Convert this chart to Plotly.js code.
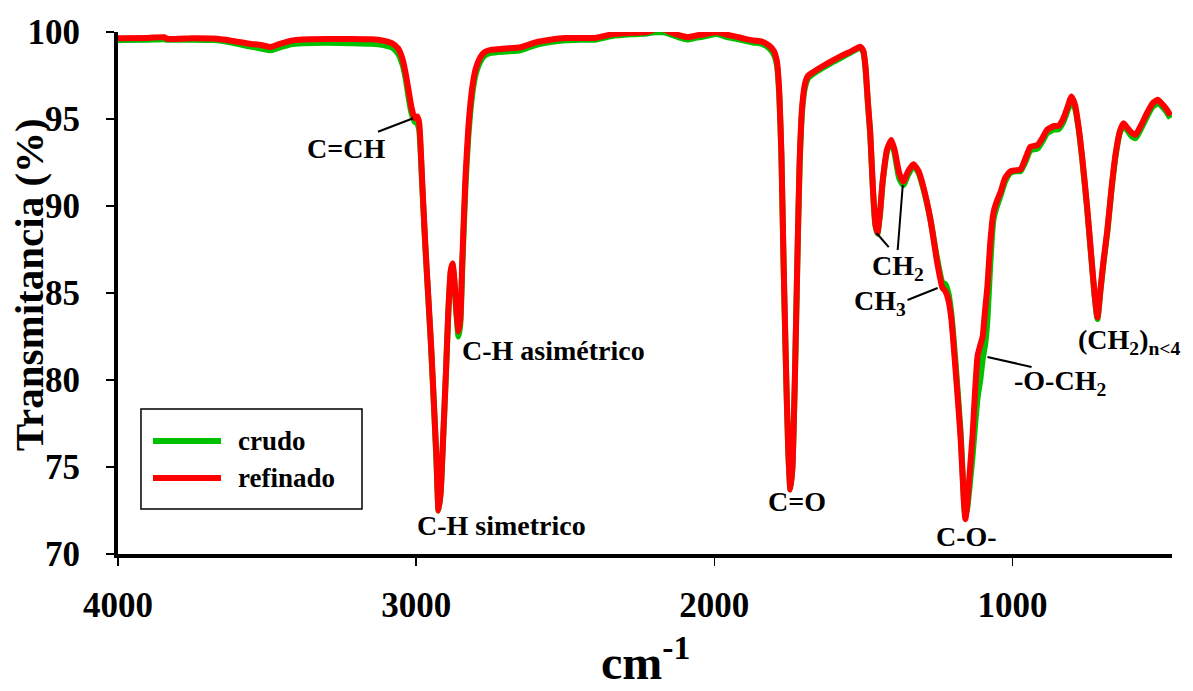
<!DOCTYPE html>
<html>
<head>
<meta charset="utf-8">
<script src="https://cdn.plot.ly/plotly-3.0.1.min.js"></script>
<style>html,body{margin:0;padding:0;background:#fff;}#chart{width:1193px;height:691px;}</style>
</head>
<body>
<div id="chart"></div>
<script>
var wavenumber = [4000,3900,3845,3835,3750,3680,3620,3560,3520,3487,3460,3420,3380,3300,3220,3150,3110,3080,3060,3045,3035,3025,3015,3005,2997,2990,2980,2970,2960,2950,2940,2932,2925,2918,2910,2900,2892,2884,2878,2872,2865,2858,2852,2845,2835,2825,2812,2800,2785,2770,2750,2700,2650,2600,2550,2500,2450,2400,2340,2280,2225,2200,2170,2140,2110,2090,2060,2040,2020,1990,1960,1930,1900,1870,1840,1815,1800,1790,1782,1775,1768,1760,1752,1745,1738,1730,1722,1714,1705,1695,1685,1668,1640,1610,1577,1540,1510,1500,1493,1485,1477,1468,1460,1453,1445,1435,1420,1406,1395,1380,1366,1350,1332,1315,1299,1275,1252,1235,1225,1215,1205,1191,1174,1163,1158,1152,1142,1134,1125,1117,1108,1100,1092,1084,1075,1064,1052,1040,1025,1007,990,973,955,940,916,900,883,860,846,830,815,802,790,778,765,750,738,725,715,705,695,682,668,654,640,628,615,600,587,570,547,530,513,500,485,470];

var refinado = [99.64,99.66,99.70,99.60,99.64,99.62,99.50,99.33,99.25,99.14,99.30,99.50,99.57,99.60,99.60,99.58,99.50,99.35,99.05,98.4,97.6,96.6,95.6,95.05,95.15,94.8,91.5,88.0,85.0,82.0,78.5,75.5,72.5,73.5,76.5,80.5,84.0,86.3,86.7,85.8,84.0,82.8,83.5,87.0,91.5,94.5,96.8,97.9,98.55,98.85,98.97,99.05,99.12,99.4,99.55,99.65,99.66,99.66,99.88,99.95,100.0,100.15,100.15,99.93,99.78,99.7,99.8,99.85,99.92,100.0,99.85,99.75,99.62,99.52,99.45,99.2,98.9,98.3,96.5,93.0,87.0,81.0,76.0,73.7,75.0,80.0,86.5,92.5,95.8,97.1,97.5,97.7,98.0,98.3,98.6,98.9,99.15,98.9,98.0,96.0,94.2,91.0,89.0,88.45,89.5,91.5,93.3,93.8,93.2,91.9,91.4,92.0,92.4,92.0,91.1,89.2,86.7,85.3,85.1,84.6,83.5,80.6,76.7,73.0,72.0,72.8,75.0,76.8,79.5,81.4,82.0,82.5,84.0,85.4,87.8,89.6,90.3,90.8,91.6,92.0,92.05,92.1,92.8,93.4,93.5,93.9,94.4,94.6,94.6,95.0,95.7,96.3,95.8,94.5,92.6,90.0,87.6,85.0,83.6,85.2,86.8,88.6,91.0,93.0,94.3,94.75,94.5,94.2,94.1,94.6,95.4,95.9,96.1,95.9,95.6,95.2];

var crudo = [99.54,99.56,99.58,99.55,99.56,99.54,99.40,99.18,99.05,98.95,99.10,99.30,99.35,99.38,99.36,99.33,99.25,99.10,98.75,98.1,97.3,96.2,95.3,94.85,94.75,94.4,91.3,87.9,84.9,81.9,78.4,75.4,72.5,73.5,76.4,80.4,83.9,86.2,86.6,85.6,83.8,82.5,83.2,86.6,91.0,94.0,96.4,97.6,98.3,98.65,98.8,98.88,98.95,99.25,99.42,99.52,99.55,99.56,99.78,99.87,99.92,99.98,99.98,99.82,99.65,99.57,99.68,99.72,99.8,99.88,99.72,99.62,99.5,99.4,99.32,99.05,98.7,98.1,96.3,92.8,86.9,80.9,75.9,73.7,75.0,79.9,86.3,92.3,95.6,96.9,97.35,97.6,97.9,98.2,98.5,98.85,99.1,98.85,97.9,95.9,94.1,90.9,88.9,88.4,89.4,91.4,93.2,93.7,93.0,91.6,91.2,91.8,92.3,91.9,91.0,89.2,86.9,85.6,85.5,85.0,83.8,81.0,77.0,73.2,72.2,72.6,74.2,75.6,77.5,79.0,80.0,81.2,82.0,83.5,86.5,89.2,90.0,90.6,91.4,91.9,92.0,92.0,92.6,93.2,93.3,93.7,94.2,94.4,94.4,94.8,95.5,96.0,95.6,94.4,92.5,89.9,87.5,84.9,83.5,85.1,86.7,88.5,90.9,92.9,94.2,94.6,94.35,94.0,93.9,94.4,95.2,95.7,95.9,95.75,95.45,95.05];

var xTickVals = [4000,3000,2000,1000];
var yTickVals = [70,75,80,85,90,95,100];
var seriesNames = ['crudo','refinado'];
var seriesColors = ['#00c000','#ff0000'];

// peak labels: text, wavenumber, transmittance, anchor
var labelTexts = ['C=CH','C-H asimétrico','C-H simetrico','C=O','CH<sub>2</sub>','CH<sub>3</sub>','-O-CH<sub>2</sub>','(CH<sub>2</sub>)<sub>n&lt;4</sub>','C-O-'];
var labelX = [3236,2853,2713,1724,1385,1446,842,607,1154];
var labelY = [93.28,81.67,71.61,72.99,86.44,84.43,79.83,82.24,71.03];
var labelAnchor = ['center','left','center','center','center','center','center','center','center'];

// leader lines [x0,y0,x1,y1]
var leaderX0 = [3128,1456,1368,1352,1084];
var leaderY0 = [94.27,88.45,91.2,84.6,81.32];
var leaderX1 = [3010,1415,1385,1251,936];
var leaderY1 = [95.04,87.64,87.47,85.29,80.75];

var FONT = 'Liberation Serif, Times New Roman, serif';

var traces = [
  {x: wavenumber, y: crudo, name: seriesNames[0], type: 'scatter', mode: 'lines',
   line: {color: seriesColors[0], width: 6, shape: 'spline', smoothing: 0.5}},
  {x: wavenumber, y: refinado, name: seriesNames[1], type: 'scatter', mode: 'lines',
   line: {color: seriesColors[1], width: 6, shape: 'spline', smoothing: 0.5}}
];

var annotations = [];
for (var i = 0; i < labelTexts.length; i++) {
  annotations.push({x: labelX[i], y: labelY[i], xref: 'x', yref: 'y', text: labelTexts[i],
    showarrow: false, xanchor: labelAnchor[i], yanchor: 'middle',
    font: {family: FONT, size: 28, color: '#000', weight: 'bold'}});
}
// axis titles
annotations.push({x: -0.0844, y: 0.515, xref: 'paper', yref: 'paper', text: 'Transmitancia (%)',
  textangle: -90, showarrow: false, xanchor: 'center', yanchor: 'middle',
  font: {family: FONT, size: 41, color: '#000', weight: 'bold'}});
annotations.push({x: 0.5, y: -0.262, xref: 'paper', yref: 'paper', text: 'cm<sup>-1</sup>',
  showarrow: false, xanchor: 'center', yanchor: 'bottom',
  font: {family: FONT, size: 48, color: '#000', weight: 'bold'}});
// legend text
annotations.push({x: 0.112, y: 0.2165, xref: 'paper', yref: 'paper', text: seriesNames[0],
  showarrow: false, xanchor: 'left', yanchor: 'middle',
  font: {family: FONT, size: 27, color: '#000', weight: 'bold'}});
annotations.push({x: 0.112, y: 0.1456, xref: 'paper', yref: 'paper', text: seriesNames[1],
  showarrow: false, xanchor: 'left', yanchor: 'middle',
  font: {family: FONT, size: 27, color: '#000', weight: 'bold'}});

var shapes = [];
for (var j = 0; j < leaderX0.length; j++) {
  shapes.push({type: 'line', xref: 'x', yref: 'y', x0: leaderX0[j], y0: leaderY0[j], x1: leaderX1[j], y1: leaderY1[j],
    line: {color: '#000', width: 2}});
}
// legend box and samples
shapes.push({type: 'rect', xref: 'paper', yref: 'paper', x0: 0.0218, x1: 0.2315, y0: 0.0862, y1: 0.2778,
  line: {color: '#000', width: 1.5}, fillcolor: 'rgba(0,0,0,0)'});
shapes.push({type: 'line', xref: 'paper', yref: 'paper', x0: 0.0332, x1: 0.0977, y0: 0.2165, y1: 0.2165,
  line: {color: seriesColors[0], width: 6}});
shapes.push({type: 'line', xref: 'paper', yref: 'paper', x0: 0.0332, x1: 0.0977, y0: 0.1456, y1: 0.1456,
  line: {color: seriesColors[1], width: 6}});

var layout = {
  width: 1193, height: 691,
  margin: {l: 118, r: 21, t: 32, b: 137, pad: 0},
  paper_bgcolor: '#fff', plot_bgcolor: '#fff',
  showlegend: false,
  xaxis: {range: [4000, 465], tickvals: xTickVals, ticktext: xTickVals.map(String),
    showgrid: false, zeroline: false, showline: true, linecolor: '#000', linewidth: 4,
    ticks: 'outside', ticklen: 8, tickwidth: 1.5, tickcolor: '#000', ticklabelstandoff: 9,
    tickfont: {family: FONT, size: 35, color: '#000', weight: 'bold'}},
  yaxis: {range: [70, 100], tickvals: yTickVals, ticktext: yTickVals.map(String),
    showgrid: false, zeroline: false, showline: true, linecolor: '#000', linewidth: 4,
    ticks: 'outside', ticklen: 8, tickwidth: 2, tickcolor: '#000', ticklabelstandoff: 19,
    tickfont: {family: FONT, size: 35, color: '#000', weight: 'bold'}},
  annotations: annotations,
  shapes: shapes
};

Plotly.newPlot('chart', traces, layout, {staticPlot: true, displayModeBar: false});
</script>
</body>
</html>
